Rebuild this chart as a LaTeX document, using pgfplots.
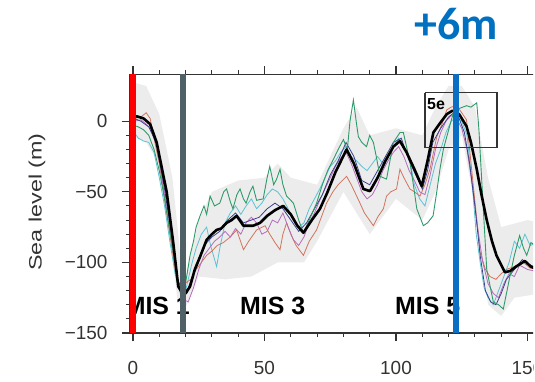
\documentclass[border=0pt]{standalone}
\usepackage{fontspec}
\setmainfont{Liberation Sans}
\newfontfamily\carlito{Carlito}
\usepackage{pgfplots}
\pgfplotsset{compat=1.18}
\definecolor{cgreen}{HTML}{2F9A6A}
\definecolor{ccyan}{HTML}{5CC3D3}
\definecolor{csalmon}{HTML}{D2735E}
\definecolor{cmag}{HTML}{B46CBC}
\definecolor{cnavy}{HTML}{3B428C}
\definecolor{cband}{HTML}{ECECEC}
\definecolor{cgrayline}{HTML}{4F6167}
\definecolor{cblue}{HTML}{0A6EC2}
\definecolor{ctitle}{HTML}{0070C0}
\definecolor{caxis}{HTML}{333333}
\begin{document}
\begin{tikzpicture}
\useasboundingbox (-130bp,-49bp) rectangle (405bp,333bp);
\clip (-130bp,-49bp) rectangle (403bp,333bp);
\begin{axis}[
  at={(0,0)}, anchor=south west,
  scale only axis, width=450.1bp, height=258.5bp,
  xmin=-1.14, xmax=170, ymin=-150, ymax=33.1,
  axis x line*=box, axis y line*=left,
  xtick={0,50,100,150}, ytick={-150,-100,-50,0},
  yticklabels={−150,−100,−50,0},
  xticklabels={0,50,100,150},
  minor x tick num=4, minor y tick num=4,
  xtick pos=both, ytick pos=left,
  tick align=outside,
  major tick length=8bp, minor tick length=4bp,
  axis line style={caxis, line width=1.2bp},
  every tick/.style={caxis, line width=1.1bp},
  tick label style={font=\fontsize{19}{21}\selectfont, text=black!80},
  xticklabel style={yshift=-17bp},
  yticklabel style={xshift=-11bp},
]
% uncertainty envelope
\addplot[fill=cband, draw=none] coordinates {
(-1,28)(5,25)(10,5)(15,-40)(18,-95)(20,-110)(25,-70)(30,-50)(40,-42)(50,-40)(55,-30)(60,-40)(70,-45)(80,-5)(85,10)(90,-10)(100,-5)(110,-10)(115,10)(120,25)(125,25)(130,10)(135,-40)(140,-75)(150,-70)(155,-72)
(155,-122)(145,-125)(140,-138)(135,-130)(130,-60)(125,-10)(120,-20)(115,-50)(110,-70)(100,-55)(90,-80)(80,-50)(70,-85)(65,-100)(55,-100)(45,-110)(35,-112)(25,-110)(20,-132)(17,-128)(14,-80)(10,-30)(5,-15)(-1,-10)} -- cycle;
% cyan
\addplot[ccyan, line width=0.8bp] coordinates {
(0.5,-8)(2,-12)(4,-14)(6,-15)(8,-22)(10,-40)(12,-60)(14,-85)(16,-108)(18,-122)(19.5,-124)(21,-112)(22.5,-100)(24,-90)(26,-80)(28,-75)(29.5,-88)(31.8,-103)(33,-90)(35,-72)(37,-65)(39,-60)(41,-66)(43,-60)(45,-55)(47,-62)(49,-58)(51,-52)(53,-48)(55,-50)(57,-55)(59,-62)(61,-70)(63,-75)(65,-72)(67,-62)(69,-55)(71,-48)(73,-40)(75,-32)(77,-28)(79,-22)(81,-18)(83,-25)(85,-28)(87,-32)(89,-35)(91,-30)(93,-25)(95,-30)(97,-25)(99,-18)(101,-12)(103,-18)(105,-25)(107,-45)(109,-55)(111,-60)(113,-45)(115,-30)(117,-20)(119,-8)(121,0)(123,3)(125,0)(127,-10)(129,-45)(130.5,-80)(132,-100)(133.5,-118)(135,-125)(137,-130)(139,-120)(141,-110)(143,-100)(145,-85)(147,-90)(149,-80)(151,-88)(155,-85)};
% salmon
\addplot[csalmon, line width=0.8bp] coordinates {
(0.5,2)(3,3)(5,6)(6.5,2)(8,-12)(10,-30)(12,-55)(14,-80)(16,-105)(18,-118)(20.4,-114)(22,-112)(24,-105)(26,-100)(28,-95)(30,-92)(32,-88)(34.3,-86)(37,-82)(39.4,-77)(42,-91)(44,-85)(47,-77)(50.2,-74)(52,-80)(54,-86)(55.9,-91)(57,-80)(58.4,-72)(60,-80)(62,-88)(64.8,-95)(67,-85)(69.8,-77)(72,-66)(73.6,-58)(76,-50)(78,-45)(81.2,-39)(83,-45)(86.3,-58)(88,-65)(91.4,-74)(93,-68)(95.2,-62)(96.4,-53)(98,-50)(100.2,-48)(101.5,-34)(103,-40)(105.3,-48)(107,-50)(109.1,-53)(111,-45)(112.9,-34)(115.5,-11)(117.5,-2)(119.3,8)(121,10)(123,11)(125,6)(126.8,1)(128,-20)(129.4,-46)(132,-93)(134,-105)(135.7,-110)(138,-112)(140,-108)(142,-105)(145,-103)(148.4,-100)(151,-104)(155,-105)};
% magenta
\addplot[cmag, line width=0.8bp] coordinates {
(0.5,0)(3,1)(5,-2)(7,-6)(9,-18)(11,-40)(13,-65)(15,-90)(17,-112)(19,-126)(21,-128)(23,-118)(25,-105)(27,-95)(29,-90)(31,-85)(33,-82)(35,-78)(37,-82)(39,-76)(41,-80)(43,-72)(45,-68)(47,-72)(49,-80)(51,-78)(53,-70)(55,-72)(57,-65)(59,-75)(61,-84)(63,-88)(65,-82)(67,-72)(69,-65)(71,-56)(73,-48)(75,-40)(77,-32)(79,-26)(81,-22)(83,-30)(85,-40)(87,-50)(89,-55)(91,-52)(93,-45)(95,-35)(97,-28)(99,-22)(101,-18)(103,-25)(105,-35)(107,-42)(109,-50)(111,-52)(113,-38)(115,-20)(117,-8)(119,0)(121,4)(123,2)(125,-5)(127,-20)(129,-45)(131,-75)(133,-100)(135,-115)(137,-122)(139,-125)(141,-115)(143,-108)(145,-110)(147,-102)(150,-105)(155,-107)};
% navy
\addplot[cnavy, line width=0.8bp] coordinates {
(0.5,2)(3,0)(6,-4)(9,-16)(12,-48)(15,-85)(17,-112)(19,-122)(21,-118)(23,-108)(25,-98)(27,-88)(30,-82)(33,-78)(36,-70)(39,-65)(42,-72)(45,-70)(48,-68)(51,-62)(54,-58)(57,-62)(60,-70)(63,-78)(66,-72)(69,-62)(72,-52)(75,-38)(78,-28)(81,-15)(84,-25)(87,-42)(90,-45)(93,-35)(96,-25)(99,-15)(102,-12)(105,-28)(108,-40)(110,-48)(112,-35)(114,-15)(117,-5)(120,3)(122,6)(124,2)(126,-8)(128,-30)(130,-60)(132,-95)(134,-120)(136,-128)(138,-130)(140,-122)(142,-112)(145,-105)(148,-98)(151,-102)(155,-104)};
% green
\addplot[cgreen, line width=0.9bp] coordinates {
(0.5,-3)(2,-4)(4,-6)(6,-10)(8,-20)(10,-35)(12,-55)(14,-78)(15.5,-95)(17,-115)(18.5,-122)(19.5,-120)(20.4,-110)(21.7,-95)(23,-85)(24,-75)(25.5,-67)(27,-60)(28,-66)(29.3,-53)(31,-60)(33,-58)(34.5,-50)(35.6,-48)(37,-57)(38,-62)(39.5,-52)(40.7,-48)(42,-55)(43,-58)(44.5,-50)(45.6,-46)(47,-56)(49.5,-55)(51,-40)(52,-32)(53.5,-45)(54.6,-41)(55.9,-34)(57,-45)(58.4,-53)(61,-58)(63,-70)(64.8,-79)(67,-70)(69.8,-58)(72,-45)(74,-35)(76.2,-27)(78,-20)(80,-13)(81.5,-20)(82.5,0)(83.8,15)(85,-2)(85.7,-11)(87,-15)(88.8,-18)(90,-10)(91.4,-15)(92.5,-25)(93.9,-39)(96.4,-41)(97.5,-30)(99,-15)(101.5,-8)(102.8,-8)(104,-18)(105.3,-29)(107,-50)(107.9,-62)(110.4,-74)(112,-72)(114.1,-67)(115.5,-50)(116.7,-34)(118,-20)(119.3,-11)(121.8,6)(124,9)(126.8,11)(128.5,10)(130.7,13)(131.5,-5)(132,-22)(133.2,-62)(134.5,-105)(137,-128)(139,-130)(140.8,-133)(142,-122)(143.3,-110)(145,-95)(147,-81)(148.5,-90)(149.7,-95)(151.3,-86)(155,-90)};
% black mean
\addplot[black, line width=2.6bp, line join=round] coordinates {
(0.5,3)(1.4,3.5)(4,2)(6.5,-2)(9,-15)(12.8,-50)(15.3,-86)(17.2,-117)(18.5,-121)(20,-122)(21.7,-117)(23.5,-105)(25.5,-96)(28,-84)(30,-80)(31.8,-77)(33.5,-76)(35.6,-72)(37.5,-70)(39.4,-67)(42,-74)(45.7,-74)(48.3,-72)(51,-67)(54,-63)(57.1,-60)(60,-66)(62.5,-74)(64.8,-79)(68,-70)(71.1,-62)(74,-50)(77,-36)(81.2,-20)(84,-30)(87.6,-48)(90.1,-49.5)(93,-40)(96,-28)(99,-18)(101.5,-14)(104,-22)(107,-34)(109.8,-46)(112,-28)(114.2,-8)(116.5,-2)(119.3,5)(121.5,7.5)(124,5)(126.8,-3.5)(128.5,-15)(130.7,-34)(132.5,-52)(134.5,-70)(136.5,-85)(138.2,-95)(141.4,-107)(143.5,-106)(145.6,-103)(149,-99)(151.3,-103)(155,-106)};
% 5e box
\addplot[caxis, line width=1.2bp] coordinates {(111,20.3)(138.4,20.3)(138.4,-18.6)(111,-18.6)(111,20.3)};
\node[anchor=base west, font=\fontsize{16}{18}\selectfont\bfseries, inner sep=0pt] at (axis cs:111.8,8.3) {5e};
% MIS labels
\node[anchor=base west, font=\fontsize{25}{27}\selectfont\bfseries, inner sep=0pt] at (axis cs:-3.2,-137) {MIS 1};
\node[anchor=base west, font=\fontsize{25}{27}\selectfont\bfseries, inner sep=0pt] at (axis cs:40.7,-137) {MIS 3};
\node[anchor=base west, font=\fontsize{25}{27}\selectfont\bfseries, inner sep=0pt] at (axis cs:99.6,-137) {MIS 5};
% vertical marker lines
\addplot[red, line width=6bp] coordinates {(0,-150)(0,33.1)};
\addplot[cgrayline, line width=6bp] coordinates {(18.9,-150)(18.9,33.1)};
\addplot[cblue, line width=6bp] coordinates {(122.8,-150)(122.8,33.1)};
\end{axis}
\node[rotate=90, font=\fontsize{18}{20}\selectfont, text=black!80] at (-93bp,131bp) {\scalebox{1.3}[1]{Sea level (m)}};
\node[anchor=base, font=\fontsize{46}{48}\selectfont\carlito\bfseries, text=ctitle, inner sep=0pt] at (326bp,293bp) {+6m};
\end{tikzpicture}
\end{document}
